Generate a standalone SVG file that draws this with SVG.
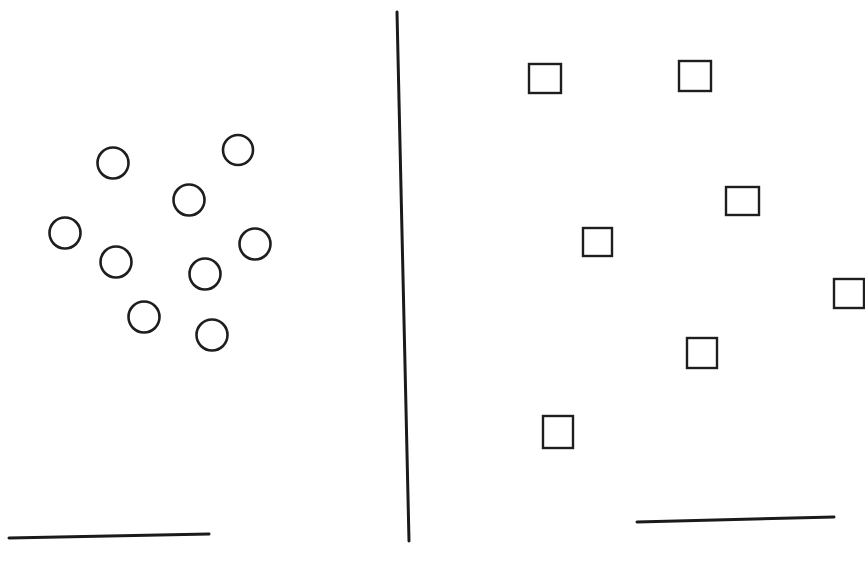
<svg xmlns="http://www.w3.org/2000/svg" width="865" height="565" viewBox="0 0 865 565">
<style>
.c{fill:none;stroke:#1e1e1e;stroke-width:2.6}
.s{fill:none;stroke:#1e1e1e;stroke-width:2.4}
.l{fill:none;stroke:#1a1a1a;stroke-width:3;stroke-linecap:round}
</style>
<rect width="865" height="565" fill="#fff"/>
<g id="circles">
<circle class="c" cx="113" cy="163" r="15.5"/>
<circle class="c" cx="238" cy="150" r="15"/>
<circle class="c" cx="189" cy="200" r="15.5"/>
<circle class="c" cx="65" cy="233" r="15.5"/>
<circle class="c" cx="116" cy="262" r="15.5"/>
<circle class="c" cx="255" cy="244" r="15.5"/>
<circle class="c" cx="205" cy="274" r="15.5"/>
<circle class="c" cx="144" cy="317" r="15.5"/>
<circle class="c" cx="212" cy="335" r="15.5"/>
</g>
<g id="squares">
<rect class="s" x="529" y="64" width="32" height="29"/>
<rect class="s" x="679" y="61" width="32" height="30"/>
<rect class="s" x="726" y="187" width="33" height="28"/>
<rect class="s" x="583" y="228" width="29" height="28"/>
<rect class="s" x="834" y="279" width="30" height="29"/>
<rect class="s" x="687" y="338" width="30" height="30"/>
<rect class="s" x="543" y="416" width="30" height="32"/>
</g>
<g id="lines">
<line class="l" x1="397" y1="12" x2="409" y2="541"/>
<line class="l" x1="9" y1="538" x2="209" y2="534"/>
<line class="l" x1="637" y1="522" x2="834" y2="517"/>
</g>
</svg>
